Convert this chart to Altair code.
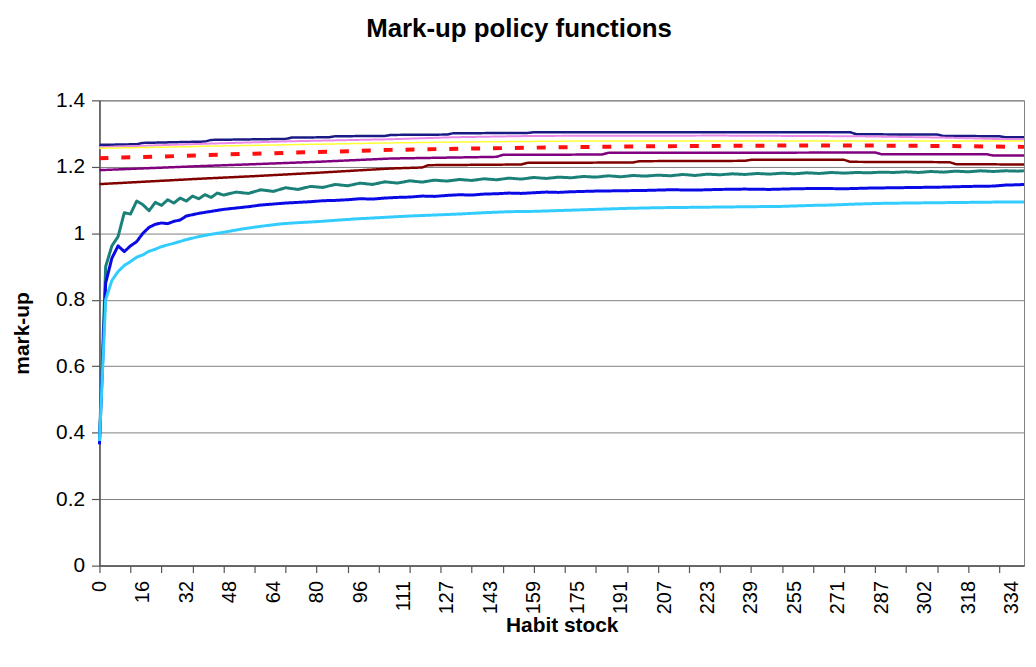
import json
import altair as alt
import pandas as pd

# ---------------- text ----------------
chart_title = "Mark-up policy functions"
y_title = "mark-up"
x_title = "Habit stock"

# category axis (Excel style): labels every 7 categories, ticks every 5
x_labels = ["0", "16", "32", "48", "64", "80", "96", "111", "127", "143", "159",
            "175", "191", "207", "223", "239", "255", "271", "287", "302", "318", "334"]
label_every = 7
tick_every = 5
n_categories = 150
y_ticks = [0, 0.2, 0.4, 0.6, 0.8, 1.0, 1.2, 1.4]

# ---------------- series (category index, mark-up) ----------------
navy_idx = [0, 6, 7, 17, 18, 30, 31, 37, 38, 46, 47, 56, 57, 69, 70, 121, 122, 135, 136, 145, 146, 149]
navy_val = [1.266, 1.268, 1.272, 1.276, 1.281, 1.284, 1.288, 1.289, 1.292, 1.293, 1.296, 1.297, 1.301,
            1.302, 1.304, 1.304, 1.298, 1.297, 1.293, 1.292, 1.289, 1.289]

pink_idx = [0, 8, 18, 31, 47, 57, 70, 100, 122, 136, 146, 149]
pink_val = [1.259, 1.264, 1.270, 1.277, 1.283, 1.289, 1.293, 1.294, 1.292, 1.288, 1.283, 1.283]

yellow_idx = [0, 10, 20, 35, 47, 60, 80, 149]
yellow_val = [1.256, 1.259, 1.263, 1.268, 1.272, 1.275, 1.278, 1.278]

red_idx = [0, 10, 20, 30, 40, 47, 60, 75, 90, 110, 125, 140, 149]
red_val = [1.226, 1.231, 1.237, 1.242, 1.247, 1.251, 1.255, 1.259, 1.262, 1.264, 1.264, 1.262, 1.260]

purple_idx = [0, 8, 16, 25, 35, 47, 57, 64, 65, 81, 82, 125, 126, 143, 144, 149]
purple_val = [1.190, 1.196, 1.202, 1.208, 1.215, 1.225, 1.228, 1.230, 1.236, 1.237, 1.242, 1.243,
              1.238, 1.238, 1.234, 1.234]

brown_idx = [0, 8, 16, 25, 35, 47, 52, 53, 68, 69, 86, 87, 104, 105, 120, 121, 137, 138, 149]
brown_val = [1.148, 1.156, 1.164, 1.172, 1.182, 1.195, 1.198, 1.205, 1.207, 1.212, 1.213, 1.217,
             1.218, 1.221, 1.221, 1.215, 1.214, 1.208, 1.207]

teal_idx = [0, 1, 2, 3, 4, 5, 6, 7, 8, 9, 10, 11, 12, 13, 14, 15, 16, 17, 18, 19, 20,
            22, 24, 26, 28, 30, 32, 34, 36, 38, 40, 42, 44, 46, 48, 50, 52, 54, 56, 58, 60,
            62, 64, 66, 68, 70, 72, 74, 76, 78, 80, 82, 84, 86, 88, 90, 92, 94, 96, 98, 100,
            102, 104, 106, 108, 110, 112, 114, 116, 118, 120, 122, 124, 126, 128, 130, 132,
            134, 136, 138, 140, 142, 144, 146, 148, 149]
teal_val = [0.380, 0.900, 0.962, 0.990, 1.062, 1.058, 1.097, 1.086, 1.068, 1.093, 1.084, 1.101,
            1.091, 1.106, 1.097, 1.112, 1.104, 1.116, 1.108, 1.121, 1.115,
            1.124, 1.120, 1.131, 1.126, 1.137, 1.132, 1.141, 1.138, 1.147, 1.143, 1.151, 1.147,
            1.155, 1.151, 1.158, 1.154, 1.160, 1.157, 1.162, 1.159, 1.164, 1.161, 1.166, 1.163,
            1.168, 1.165, 1.169, 1.167, 1.171, 1.169, 1.173, 1.170, 1.174, 1.172, 1.175, 1.173,
            1.177, 1.174, 1.178, 1.176, 1.179, 1.177, 1.180, 1.178, 1.181, 1.179, 1.182, 1.180,
            1.183, 1.181, 1.183, 1.182, 1.184, 1.183, 1.185, 1.183, 1.186, 1.184, 1.187, 1.185,
            1.188, 1.186, 1.188, 1.187, 1.188]

blue_idx = [0, 1, 2, 3, 4, 5, 6, 7, 8, 9, 10, 11, 12, 13, 14, 16, 18, 20, 22, 24, 26, 28, 30,
            32, 34, 36, 38, 40, 42, 44, 46, 48, 50, 52, 54, 56, 58, 60, 62, 64, 66, 68, 70, 72,
            74, 76, 78, 80, 84, 88, 92, 96, 100, 104, 108, 112, 116, 120, 124, 128, 132, 136,
            140, 144, 146, 148, 149]
blue_val = [0.365, 0.850, 0.925, 0.962, 0.945, 0.962, 0.975, 1.000, 1.018, 1.027, 1.031, 1.029,
            1.036, 1.040, 1.052, 1.060, 1.066, 1.072, 1.076, 1.080, 1.085, 1.088, 1.091,
            1.093, 1.095, 1.098, 1.099, 1.101, 1.104, 1.103, 1.106, 1.108, 1.109, 1.112, 1.111,
            1.114, 1.116, 1.115, 1.118, 1.119, 1.121, 1.120, 1.122, 1.124, 1.123, 1.125, 1.126,
            1.127, 1.128, 1.129, 1.131, 1.130, 1.132, 1.133, 1.132, 1.134, 1.135, 1.134, 1.136,
            1.137, 1.138, 1.139, 1.141, 1.142, 1.145, 1.146, 1.147]

cyan_idx = [0, 1, 2, 3, 4, 5, 6, 7, 8, 9, 10, 12, 14, 16, 18, 20, 23, 26, 29, 32, 35, 38, 41,
            44, 47, 50, 54, 58, 62, 66, 70, 75, 80, 85, 90, 95, 100, 105, 110, 115, 118, 122,
            126, 130, 135, 140, 145, 149]
cyan_val = [0.375, 0.800, 0.858, 0.885, 0.903, 0.915, 0.928, 0.935, 0.946, 0.952, 0.960, 0.970,
            0.981, 0.990, 0.997, 1.003, 1.013, 1.021, 1.028, 1.032, 1.035, 1.039, 1.043, 1.046,
            1.049, 1.052, 1.055, 1.058, 1.062, 1.065, 1.066, 1.069, 1.072, 1.075, 1.077, 1.078,
            1.079, 1.080, 1.081, 1.084, 1.085, 1.088, 1.090, 1.091, 1.092, 1.093, 1.094, 1.094]

series = [
    ("s1", navy_idx, navy_val, "#1a1a85", 2.5, [1, 0]),
    ("s2", pink_idx, pink_val, "#e889e8", 2.0, [1, 0]),
    ("s3", yellow_idx, yellow_val, "#ffff33", 1.5, [1, 0]),
    ("s4", red_idx, red_val, "#ff1010", 4.0, [9, 13]),
    ("s5", purple_idx, purple_val, "#800080", 2.5, [1, 0]),
    ("s6", brown_idx, brown_val, "#800000", 2.5, [1, 0]),
    ("s7", teal_idx, teal_val, "#1a8078", 3.0, [1, 0]),
    ("s8", blue_idx, blue_val, "#0a0ae6", 3.0, [1, 0]),
    ("s9", cyan_idx, cyan_val, "#33ccff", 3.0, [1, 0]),
]

rows = []
for name, xs, ys, *_ in series:
    for i, (xv, yv) in enumerate(zip(xs, ys)):
        rows.append({"series": name, "idx": xv, "value": yv, "k": i})
df = pd.DataFrame(rows)

names = [s[0] for s in series]
colors = [s[3] for s in series]
widths = [s[4] for s in series]
dashes = [s[5] for s in series]

FONT = "Liberation Sans"
label_values = [i * label_every for i in range(len(x_labels))]
tick_values = list(range(0, n_categories, tick_every))
label_expr = f"{json.dumps(x_labels)}[round(datum.value / {label_every})]"

x_scale = alt.Scale(domain=[0, n_categories - 1], nice=False, zero=False)

lines = alt.Chart(df).mark_line(strokeJoin="round").encode(
    x=alt.X("idx:Q", scale=x_scale,
            axis=alt.Axis(values=label_values, labelExpr=label_expr, labelAngle=270,
                          labelAlign="right", labelBaseline="middle",
                          ticks=False, labelPadding=15, grid=False,
                          domain=True, domainColor="#555555", domainWidth=1.5,
                          labelFont=FONT, labelFontSize=20, labelColor="#000000",
                          title=x_title, titleFont=FONT, titleFontSize=21,
                          titleFontWeight="bold", titleColor="#000000", titlePadding=1)),
    y=alt.Y("value:Q", scale=alt.Scale(domain=[0, 1.4], nice=False),
            axis=alt.Axis(values=y_ticks, format=".1~f", grid=True, gridColor="#808080",
                          gridWidth=1, tickColor="#555555", tickSize=8, tickWidth=1.2,
                          domainColor="#555555", domainWidth=1.5, labelPadding=7,
                          labelFont=FONT, labelFontSize=21, labelColor="#000000",
                          title=y_title, titleFont=FONT, titleFontSize=21,
                          titleFontWeight="bold", titleColor="#000000",
                          titleX=-67, titleY=234)),
    color=alt.Color("series:N", scale=alt.Scale(domain=names, range=colors), legend=None),
    strokeWidth=alt.StrokeWidth("series:N",
                                scale=alt.Scale(type="ordinal", domain=names, range=widths),
                                legend=None),
    strokeDash=alt.StrokeDash("series:N",
                              scale=alt.Scale(type="ordinal", domain=names, range=dashes),
                              legend=None),
    order=alt.Order("k:Q"),
)

ticks_layer = alt.Chart(pd.DataFrame({"idx": tick_values})).mark_point(opacity=0).encode(
    x=alt.X("idx:Q", scale=x_scale,
            axis=alt.Axis(values=tick_values, labels=False, ticks=True, tickSize=7,
                          tickColor="#555555", tickWidth=1.2, domain=False, grid=False,
                          title=None, orient="bottom")),
)

chart = alt.layer(lines, ticks_layer).resolve_axis(x="independent").properties(
    width=930,
    height=468,
    padding={"left": 92, "top": 91, "right": 4, "bottom": 88},
    autosize=alt.AutoSizeParams(type="none"),
    title=alt.TitleParams(text=chart_title, font=FONT, fontSize=26, fontWeight="bold",
                          color="#000000", anchor="middle", frame="bounds", offset=48),
).configure_view(stroke="#808080", strokeWidth=1)

chart.save("out.html", embed_options={"renderer": "svg", "actions": False})
